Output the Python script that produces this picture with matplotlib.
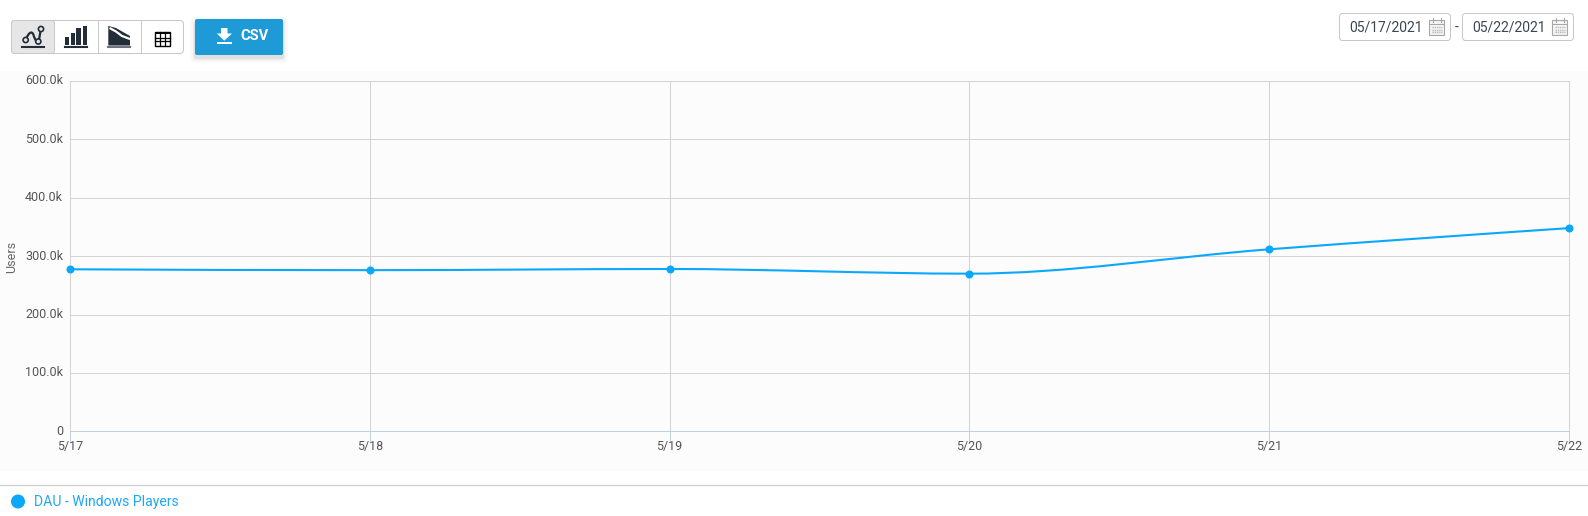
import matplotlib

matplotlib.use("Agg")
import matplotlib.pyplot as plt
from matplotlib.patches import Circle, FancyBboxPatch, PathPatch, Polygon, Rectangle
from matplotlib.path import Path
from matplotlib.transforms import ScaledTranslation

plt.rcParams["font.family"] = ["Roboto", "DejaVu Sans"]

W, H = 1588, 516

dates = ["5/17", "5/18", "5/19", "5/20", "5/21", "5/22"]
users = [277500, 276000, 278000, 270000, 311700, 348000]
y_ticks = [0, 100000, 200000, 300000, 400000, 500000, 600000]
y_labels = ["0", "100.0k", "200.0k", "300.0k", "400.0k", "500.0k", "600.0k"]
date_from = "05/17/2021"
date_to = "05/22/2021"
series_name = "DAU - Windows Players"
y_title = "Users"

BLUE = "#0aa8fb"
DARK = "#222d38"
GRID = "#d3d3d3"
BORDER = "#c8c8c8"


def round_box(ax, x0, y0, x1, y1, fc, ec, r=3.0, lw=0.72, z=2):
    box = FancyBboxPatch((x0 + r, y0 + r), x1 - x0 - 2 * r, y1 - y0 - 2 * r,
                         boxstyle=f"round,pad={r},rounding_size={r}", fc=fc, ec=ec, lw=lw, zorder=z)
    ax.add_patch(box)


def monotone_path(xs, ys):
    # monotone cubic through the points, flat at local peaks
    n = len(xs)
    slopes = [(ys[i + 1] - ys[i]) / (xs[i + 1] - xs[i]) for i in range(n - 1)]
    tang = [0.0] * n
    for i in range(1, n - 1):
        s0, s1 = slopes[i - 1], slopes[i]
        if s0 * s1 > 0:
            sign = 1 if s0 > 0 else -1
            tang[i] = 2 * sign * min(abs(s0), abs(s1), abs(s0 + s1) / 4)
    tang[0] = (3 * slopes[0] - tang[1]) / 2
    tang[-1] = (3 * slopes[-1] - tang[-2]) / 2

    verts = [(xs[0], ys[0])]
    codes = [Path.MOVETO]
    for i in range(1, n):
        d = (xs[i] - xs[i - 1]) / 3
        verts += [(xs[i - 1] + d, ys[i - 1] + tang[i - 1] * d), (xs[i] - d, ys[i] - tang[i] * d), (xs[i], ys[i])]
        codes += [Path.CURVE4] * 3
    return Path(verts, codes)


def line_icon(ax):
    ax.plot([22, 44], [47, 47], color=DARK, lw=1.5, zorder=4)
    curve = Path([(25.7, 40), (28, 33), (32, 30), (33.5, 35), (35, 40), (37, 43), (38.3, 41.5), (40, 36), (40, 33), (41, 29)],
                 [Path.MOVETO] + [Path.CURVE4] * 9)
    ax.add_patch(PathPatch(curve, fc="none", ec=DARK, lw=1.6, zorder=4))
    for px, py in [(25.7, 40), (38.3, 41.5), (41, 29)]:
        ax.add_patch(Circle((px, py), 2.6, fc="#e6e6e6", ec=DARK, lw=1.2, zorder=5))


def bar_icon(ax):
    ax.plot([65, 87.3], [47, 47], color=DARK, lw=1.5, zorder=4)
    for x0, x1, top in [(65, 69, 37), (70.7, 74.7, 33), (76.3, 81, 28), (82.7, 87.3, 26)]:
        ax.add_patch(Rectangle((x0, top), x1 - x0, 45 - top, fc=DARK, ec="none", zorder=4))


def area_icon(ax):
    ax.plot([108.3, 130], [47, 47], color="#6b7480", lw=1.5, zorder=4)
    ax.add_patch(Polygon([(108.3, 26), (116, 28), (123, 32), (130, 36), (130, 45.5), (108.3, 45.5)],
                         closed=True, fc=DARK, ec="none", zorder=4))
    ax.plot([110.5, 116, 122, 130], [28.5, 31.5, 36, 39], color="white", lw=1.6, zorder=5)


def table_icon(ax):
    ax.add_patch(Rectangle((154.5, 31.5), 15.5, 14, fc="white", ec="black", lw=1.0, zorder=4))
    ax.add_patch(Rectangle((154.5, 31.5), 15.5, 2.5, fc="black", ec="none", zorder=4))
    for x in (159.7, 164.9):
        ax.plot([x, x], [32, 45], color="black", lw=0.9, zorder=5)
    for y in (37.5, 41.3):
        ax.plot([154.5, 170], [y, y], color="black", lw=0.9, zorder=5)


def calendar_icon(ax, x, y):
    ax.add_patch(Rectangle((x - 7.5, y - 6.5), 15, 15, fc="#f4f4f4", ec="#a8a8a8", lw=0.8, zorder=4))
    ax.add_patch(Rectangle((x - 7.5, y - 3), 15, 1, fc="#a8a8a8", ec="none", zorder=5))
    for dx in (-4, 4):
        ax.plot([x + dx, x + dx], [y - 8.5, y - 5], color="#a8a8a8", lw=0.8, zorder=5)
    for gy in (y + 0.5, y + 3, y + 5.5):
        ax.plot([x - 5, x + 5], [gy, gy], color="#b8b8b8", lw=1.0, ls=(0, (1, 0.6)), zorder=5)


def draw_toolbar(ui):
    round_box(ui, 11.5, 20.5, 183.5, 53.5, "white", BORDER, r=4)
    round_box(ui, 11.5, 20.5, 54.5, 53.5, "#e6e6e6", BORDER, r=3, z=3)
    for x in (97.5, 140.5):
        ui.plot([x, x], [21, 53], color=BORDER, lw=0.72, zorder=3)
    line_icon(ui)
    bar_icon(ui)
    area_icon(ui)
    table_icon(ui)

    # csv button with its soft shadow
    for grow, alpha in [(5, 0.015), (3.5, 0.025), (2, 0.035), (1, 0.05)]:
        round_box(ui, 195 - grow, 19 - grow + 3, 283 + grow, 55 + grow + 3,
                  (0, 0, 0, alpha), "none", r=3, lw=0, z=1)
    round_box(ui, 195, 19, 283, 55, "#1e9ad6", "none", r=2, lw=0, z=3)
    ui.add_patch(Polygon([(221, 28), (227.5, 28), (227.5, 33.5), (232, 33.5), (224.3, 40.7), (216.7, 33.5), (221, 33.5)],
                         closed=True, fc="white", ec="none", zorder=4))
    ui.add_patch(Rectangle((217, 42.3), 15, 2, fc="white", ec="none", zorder=4))
    ui.text(240, 36.3, "CSV", color="white", fontsize=10.6, fontweight="bold", va="center", ha="left", zorder=4)

    # date pickers
    for x0, x1, label in [(1339.5, 1450.5, date_from), (1462.5, 1573.5, date_to)]:
        round_box(ui, x0, 13.5, x1, 40.5, "white", BORDER, r=3)
        ui.text(x0 + 9.7, 27.5, label, color="#3a4652", fontsize=10, va="center", ha="left", zorder=4)
        calendar_icon(ui, x1 - 14, 26.5)
    ui.text(1456.5, 27.5, "-", color="#3a4652", fontsize=10, va="center", ha="center")


def main() -> None:
    fig = plt.figure(figsize=(W / 100, H / 100), dpi=100, facecolor="white")

    ui = fig.add_axes([0, 0, 1, 1], zorder=0)
    ui.set_xlim(0, W)
    ui.set_ylim(H, 0)
    ui.axis("off")
    ui.add_patch(Rectangle((0, 71), W, 400, fc="#fcfcfc", ec="none", zorder=0))
    ui.plot([0, W], [484.7, 484.7], color="#cfcfcf", lw=0.9, zorder=1)
    draw_toolbar(ui)
    ui.add_patch(Circle((18, 501.5), 7, fc=BLUE, ec="none", zorder=3))
    ui.text(34, 502, series_name, color="#1ea6f8", fontsize=10.1, va="center", ha="left")
    ui.text(11.5, 257, y_title, color="#666666", fontsize=9, rotation=90, va="center", ha="center")

    left, right, top, bottom = 70.0, 1568.8, 81.0, 431.3
    ax = fig.add_axes([left / W, 1 - bottom / H, (right - left) / W, (bottom - top) / H], zorder=1)
    ax.patch.set_alpha(0)
    xs = list(range(len(dates)))
    ax.set_xlim(xs[0], xs[-1])
    ax.set_ylim(y_ticks[0], y_ticks[-1])
    ax.set_xticks(xs, dates)
    ax.set_yticks(y_ticks, y_labels)
    ax.grid(True, color=GRID, lw=0.72, zorder=1)
    ax.set_axisbelow(True)
    for side in ("top", "left", "right"):
        ax.spines[side].set_color(GRID)
        ax.spines[side].set_linewidth(0.72)
    ax.spines["bottom"].set_color("#c0d0e0")
    ax.spines["bottom"].set_linewidth(0.72)
    ax.tick_params(axis="x", length=7, width=0.72, color="#c0d0e0", pad=-1, labelsize=9, labelcolor="#555555")
    ax.tick_params(axis="y", length=0, pad=5, labelsize=9, labelcolor="#555555")
    nudge = ScaledTranslation(0, 1.5 / 100, fig.dpi_scale_trans)
    for lab in ax.get_yticklabels():
        lab.set_transform(lab.get_transform() + nudge)

    ax.add_patch(PathPatch(monotone_path(xs, users), fc="none", ec=BLUE, lw=1.5, zorder=4, clip_on=False))
    ax.plot(xs, users, ls="none", marker="o", ms=5.8, color=BLUE, mec="none", zorder=5, clip_on=False)

    fig.savefig("out.png", dpi=100)


if __name__ == "__main__":
    main()
